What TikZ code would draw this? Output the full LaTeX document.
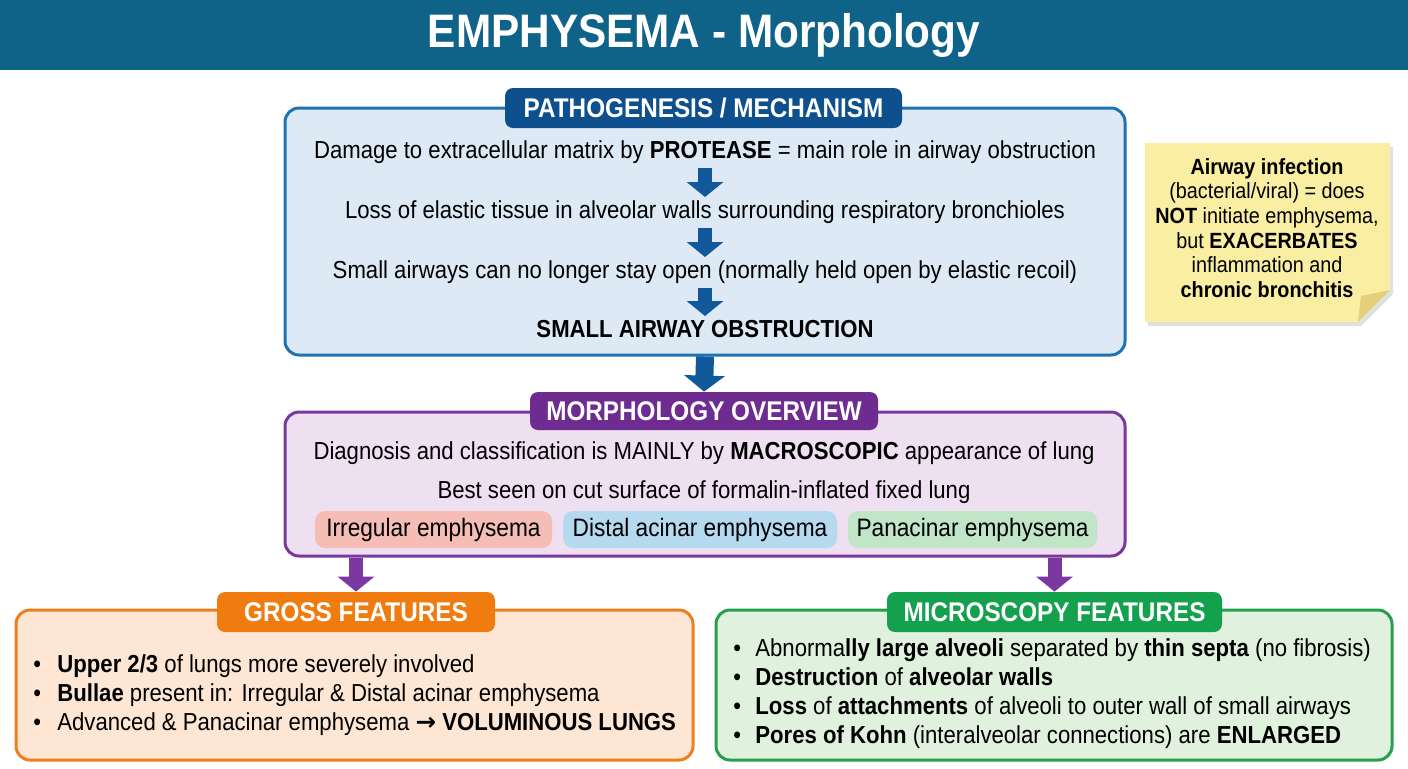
\documentclass[tikz,border=0pt]{standalone}
\usepackage{fontspec}
\setmainfont{Liberation Sans}[FakeStretch=0.9]
\newfontfamily\arrowfont{DejaVu Sans}
\usepackage{tikz}
\usetikzlibrary{positioning, calc, shapes, arrows.meta}

\definecolor{titleblue}{HTML}{0F6389}
\definecolor{pathline}{HTML}{1F72B2}
\definecolor{pathfill}{HTML}{DDEAF6}
\definecolor{pathtab}{HTML}{0E4F8D}
\definecolor{arrowblue}{HTML}{11599B}
\definecolor{morphline}{HTML}{7A389E}
\definecolor{morphfill}{HTML}{EEDFF1}
\definecolor{morphtab}{HTML}{6E2C91}
\definecolor{arrowpurple}{HTML}{7B38A0}
\definecolor{grossline}{HTML}{EF7F1A}
\definecolor{grossfill}{HTML}{FDE7D4}
\definecolor{grosstab}{HTML}{F07C10}
\definecolor{microline}{HTML}{27A04E}
\definecolor{microfill}{HTML}{E0F1DD}
\definecolor{microtab}{HTML}{13A14E}
\definecolor{pillred}{HTML}{F5BDB5}
\definecolor{pillblue}{HTML}{B5DAF0}
\definecolor{pillgreen}{HTML}{C0E5C7}
\definecolor{notefill}{HTML}{FAEEA3}
\definecolor{notefold}{HTML}{E4CF7C}

\tikzset{
	panel/.style={draw, line width=1.5pt, rounded corners=7pt},
	tab/.style={rounded corners=4pt, text=white, inner sep=0pt,
		font=\bfseries\fontsize{13.5}{15}\selectfont},
	body/.style={font=\fontsize{12.3}{15}\selectfont, text height=8.5pt, text depth=2.2pt, inner sep=1pt},
	pill/.style={rounded corners=5pt, minimum height=18.5pt, inner sep=0pt,
		font=\fontsize{12.6}{15}\selectfont},
	flowarrow/.style={line width=7pt, -{Triangle[width=18pt,length=7.5pt]}},
	bigarrow/.style={line width=9pt, -{Triangle[width=20pt,length=8pt]}},
}

\begin{document}
\begin{tikzpicture}[x=0.5pt, y=-0.5pt]
	\useasboundingbox (0,0) rectangle (1408,768);

	% title
	\node[fill=titleblue, minimum width=704pt, minimum height=35pt, inner sep=0pt,
		text=white, font=\bfseries\fontsize{23.5}{27}\selectfont] (title) at (704,35) {EMPHYSEMA - Morphology};

	% pathogenesis
	\node[panel, draw=pathline, fill=pathfill, minimum width=420pt, minimum height=123.5pt] (pathbox) at (705,231.5) {};
	\node[tab, fill=pathtab, minimum width=198.5pt, minimum height=20pt] (pathtab) at (703.5,108) {PATHOGENESIS / MECHANISM};
	\node[body] (p1) at (705,152) {Damage to extracellular matrix by \textbf{PROTEASE} = main role in airway obstruction};
	\node[body] (p2) at (705,212) {Loss of elastic tissue in alveolar walls surrounding respiratory bronchioles};
	\node[body] (p3) at (705,272) {Small airways can no longer stay open (normally held open by elastic recoil)};
	\node[body] (p4) at (705,331) {\textbf{SMALL AIRWAY OBSTRUCTION}};
	\foreach \a/\b in {p1/p2, p2/p3, p3/p4}
		\draw[flowarrow, draw=arrowblue, shorten <=8pt, shorten >=7.5pt] (\a.center) -- (\b.center);

	% morphology overview
	\node[panel, draw=morphline, fill=morphfill, minimum width=420pt, minimum height=72pt] (morphbox) at (705,484) {};
	\node[tab, fill=morphtab, minimum width=174pt, minimum height=19pt] (morphtab) at (704,411) {MORPHOLOGY OVERVIEW};
	\draw[bigarrow, draw=arrowblue] (pathbox.south) -- (morphtab.north);
	\node[body] (m1) at (704,453) {Diagnosis and classification is MAINLY by \textbf{MACROSCOPIC} appearance of lung};
	\node[body] (m2) at (704,492) {Best seen on cut surface of formalin-inflated fixed lung};
	\node[pill, fill=pillred, minimum width=118.5pt] (irr) at (433.5,529.5) {Irregular emphysema};
	\node[pill, fill=pillblue, minimum width=137pt] (dist) at (700,529.5) {Distal acinar emphysema};
	\node[pill, fill=pillgreen, minimum width=124.5pt] (pan) at (972.5,529.5) {Panacinar emphysema};

	% gross
	\node[panel, draw=grossline, fill=grossfill, minimum width=338.5pt, minimum height=75pt] (grossbox) at (354.5,685) {};
	\node[tab, fill=grosstab, minimum width=139pt, minimum height=20pt] (grosstab) at (356,612) {GROSS FEATURES};
	\node[anchor=west, align=left, inner sep=0pt, font=\fontsize{12.3}{14.5}\selectfont] (gross) at (33,695) {%
		\makebox[12pt][l]{\textbullet}\textbf{Upper 2/3} of lungs more severely involved\\
		\makebox[12pt][l]{\textbullet}\textbf{Bullae} present in: Irregular \& Distal acinar emphysema\\
		\makebox[12pt][l]{\textbullet}Advanced \& Panacinar emphysema {\arrowfont\bfseries →} \textbf{VOLUMINOUS LUNGS}};

	% microscopy
	\node[panel, draw=microline, fill=microfill, minimum width=338pt, minimum height=75pt] (microbox) at (1054,685) {};
	\node[tab, fill=microtab, minimum width=167.5pt, minimum height=20pt] (microtab) at (1054.5,612) {MICROSCOPY FEATURES};
	\node[anchor=west, align=left, inner sep=0pt, font=\fontsize{12.3}{14.5}\selectfont] (micro) at (733,694) {%
		\makebox[11pt][l]{\textbullet}Abnorma\textbf{lly large alveoli} separated by \textbf{thin septa} (no fibrosis)\\
		\makebox[11pt][l]{\textbullet}\textbf{Destruction} of \textbf{alveolar walls}\\
		\makebox[11pt][l]{\textbullet}\textbf{Loss} of \textbf{attachments} of alveoli to outer wall of small airways\\
		\makebox[11pt][l]{\textbullet}\textbf{Pores of Kohn} (interalveolar connections) are \textbf{ENLARGED}};

	\draw[flowarrow, draw=arrowpurple] (morphbox.south -| grosstab.north) -- (grosstab.north);
	\draw[flowarrow, draw=arrowpurple] (morphbox.south -| microtab.north) -- (microtab.north);

	% sticky note
	\fill[black, opacity=0.12] (1148,147) -- (1393,147) -- (1393,294) -- (1361,326) -- (1148,326) -- cycle;
	\fill[notefill] (1145,143) -- (1390,143) -- (1390,290) -- (1358,322) -- (1145,322) -- cycle;
	\fill[notefold] (1390,290) -- (1358,322) -- (1361,296) -- cycle;
	\node[align=center, inner sep=0pt, font=\fontsize{11}{12.3}\selectfont] (note) at (1267,228) {%
		\textbf{Airway infection}\\
		(bacterial/viral) = does\\
		\textbf{NOT} initiate emphysema,\\
		but \textbf{EXACERBATES}\\
		inflammation and\\
		\textbf{chronic bronchitis}};
\end{tikzpicture}
\end{document}
